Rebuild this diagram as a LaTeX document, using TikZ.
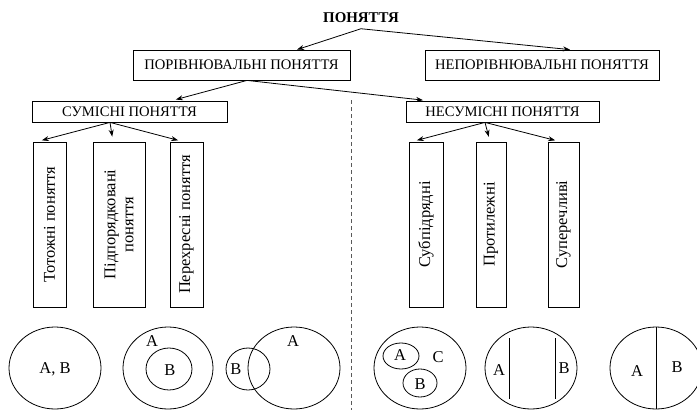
\documentclass[tikz,border=0pt]{standalone}
\usepackage{fontspec}
\setmainfont{Liberation Serif}
\usetikzlibrary{arrows.meta}
\begin{document}
\begin{tikzpicture}[x=1pt,y=-1pt,line width=0.8pt,
    font=\fontsize{16.5}{18}\selectfont,
    box/.style={draw,inner sep=0pt,minimum height=#1,font=\fontsize{14.6}{17}\selectfont},
    box/.default=30pt,
    vbox/.style={draw,rotate=90,inner sep=0pt,minimum width=165pt,align=center},
    arr/.style={-{Stealth[length=7pt,width=5pt]},shorten >=#1},
    arr/.default=0pt]
  \useasboundingbox (0,0) rectangle (697,410);
  % top level
  \node[font=\fontsize{14.9}{17}\selectfont\bfseries] (title) at (361,18) {ПОНЯТТЯ};
  \node[box,minimum width=217pt] (porivn) at (241.5,65) {ПОРІВНЮВАЛЬНІ ПОНЯТТЯ};
  \node[box,minimum width=234pt] (neporivn) at (542,65) {НЕПОРІВНЮВАЛЬНІ ПОНЯТТЯ};
  \draw[arr] ([yshift=-2pt]title.south) -- ([xshift=55.5pt]porivn.north);
  \draw[arr] ([yshift=-2pt]title.south) -- ([xshift=28pt]neporivn.north);
  % second level
  \node[box=21pt,minimum width=195pt] (sumisni) at (129.5,111.5) {СУМІСНІ ПОНЯТТЯ};
  \node[box=21pt,minimum width=193pt] (nesumisni) at (502.5,111.5) {НЕСУМІСНІ ПОНЯТТЯ};
  \draw[arr=4pt] ([xshift=5.5pt]porivn.south) -- ([xshift=42.5pt]sumisni.north);
  \draw[arr=4pt] ([xshift=5.5pt]porivn.south) -- ([xshift=-75.5pt]nesumisni.north);
  \draw[dash pattern=on 4pt off 3pt,gray!70!black] (351,100) -- (351,410);
  % vertical boxes
  \node[vbox,minimum height=33pt] (totozhni) at (49.5,224.5) {Тотожні поняття};
  \node[vbox,minimum height=52pt] (pidpor) at (119,224.5) {Підпорядковані\\поняття};
  \node[vbox,minimum height=33pt] (perekhr) at (186.5,224.5) {Перехресні поняття};
  \node[vbox,minimum height=34pt] (subpid) at (426,224.5) {Субпідрядні};
  \node[vbox,minimum height=30pt] (protyl) at (491,224.5) {Протилежні};
  \node[vbox,minimum height=31pt] (superech) at (563.5,224.5) {Суперечливі};
  \draw[arr=5pt] ([xshift=-19.5pt]sumisni.south) -- ([xshift=-12.5pt]totozhni.east);
  \draw[arr=5pt] ([xshift=-19.5pt]sumisni.south) -- ([xshift=-6pt]pidpor.east);
  \draw[arr=5pt] ([xshift=-19.5pt]sumisni.south) -- ([xshift=-3.5pt]perekhr.east);
  \draw[arr=5pt] ([xshift=-17.5pt]nesumisni.south) -- ([xshift=-14pt]subpid.east);
  \draw[arr=5pt] ([xshift=-17.5pt]nesumisni.south) -- ([xshift=-1pt]protyl.east);
  \draw[arr=5pt] ([xshift=-17.5pt]nesumisni.south) -- ([xshift=-3.5pt]superech.east);
  % circles
  \draw (55,368) ellipse (46 and 41);
  \node (ab) at (55,369) {A, B};
  \draw (168,368) ellipse (45 and 41);
  \draw (169,369) ellipse (23 and 21);
  \node (a2) at (152,341) {A};
  \node (b2) at (170,370) {B};
  \draw (294,368) ellipse (46 and 41);
  \draw (248,369) ellipse (22 and 21);
  \node (b3) at (236,369) {B};
  \node (a3) at (293,341) {A};
  \draw (420,368) ellipse (46 and 41);
  \draw (401,356) ellipse (18 and 13);
  \draw (420,383) ellipse (17 and 14);
  \node (a4) at (400,355) {A};
  \node (b4) at (420,384) {B};
  \node (c4) at (438,357) {C};
  \draw (531,368) ellipse (46 and 41);
  \draw (509,338) -- (509,399);
  \draw (555,338) -- (555,399);
  \node (a5) at (499,370) {A};
  \node (b5) at (564,368) {B};
  \begin{scope}
    \clip (0,0) rectangle (697,410);
    \draw (656,368) ellipse (46 and 41);
  \end{scope}
  \draw (656,327) -- (656,409);
  \node (a6) at (637,371) {A};
  \node (b6) at (677,367) {B};
\end{tikzpicture}
\end{document}
